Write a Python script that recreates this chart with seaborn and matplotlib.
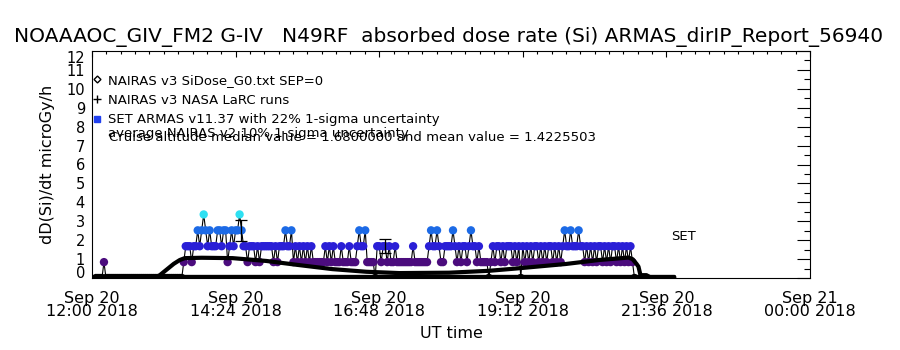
import pandas as pd
import seaborn as sns
import matplotlib.pyplot as plt
import matplotlib.dates as mdates
from matplotlib.lines import Line2D
from matplotlib.ticker import MultipleLocator, FixedLocator

# ARMAS SET readings, one sample every 2 min from 12:04 UT,
# written as multiples of the 0.84 microGy/h dose-rate step
armas_start = '2018-09-20 12:04'
armas_step = 0.84
armas_levels = [
    0, 0, 0, 0, 1, 0, 0, 0, 0, 0, 0, 0, 0, 0, 0, 0, 0, 0, 0, 0,
    0, 0, 0, 0, 0, 0, 0, 0, 0, 0, 0, 0, 0, 0, 0, 0, 0, 0, 0, 0,
    0, 0, 0, 0, 1, 2, 2, 2, 1, 2, 2, 3, 2, 3, 4, 3, 2, 3, 2, 2,
    2, 3, 3, 2, 3, 3, 1, 2, 3, 2, 3, 3, 4, 3, 2, 2, 1, 2, 2, 2,
    1, 2, 1, 2, 2, 2, 2, 2, 2, 1, 2, 1, 2, 2, 2, 3, 2, 2, 3, 1,
    2, 1, 2, 1, 2, 1, 2, 1, 2, 1, 1, 1, 1, 1, 1, 2, 1, 2, 1, 2,
    1, 1, 1, 2, 1, 1, 1, 2, 1, 1, 1, 2, 3, 2, 2, 3, 1, 1, 1, 1,
    0, 2, 2, 1, 2, 2, 1, 2, 1, 1, 2, 1, 1, 1, 1, 1, 1, 1, 1, 2,
    1, 1, 1, 1, 1, 1, 1, 2, 3, 2, 2, 3, 2, 1, 1, 2, 2, 2, 2, 3,
    2, 1, 2, 1, 2, 2, 1, 2, 3, 2, 2, 1, 2, 1, 1, 1, 1, 0, 1, 2,
    1, 2, 2, 1, 2, 1, 2, 2, 2, 1, 2, 1, 2, 0, 2, 1, 2, 1, 2, 1,
    2, 2, 1, 2, 1, 2, 1, 2, 2, 1, 2, 1, 2, 1, 2, 3, 2, 2, 3, 2,
    2, 2, 3, 2, 2, 1, 2, 1, 2, 1, 2, 1, 2, 2, 1, 2, 1, 2, 1, 2,
    2, 1, 2, 1, 2, 1, 2, 1, 2, 1, 0,
]

# NAIRAS v3 model curve: minutes after 12:00 UT, microGy/h
nairas_min = [63, 68, 75, 82, 88, 93, 110, 141, 175, 208, 241, 275, 308, 358,
              398, 425, 475, 508, 538, 542, 546, 548, 550, 556, 560, 584]
nairas_val = [0.0, 0.15, 0.45, 0.75, 0.95, 1.05, 1.07, 1.05, 0.9, 0.68, 0.47,
              0.33, 0.26, 0.28, 0.38, 0.5, 0.74, 0.95, 1.08, 1.0, 0.75, 0.6,
              0.15, 0.15, 0.03, 0.03]

# ground trace along the bottom of the panel
base_min = [5, 584]
base_val = [0.08, 0.08]

# NAIRAS v3 NASA LaRC runs with uncertainty
larc_min = [149, 294]
larc_val = [2.52, 1.68]
larc_err = [0.55, 0.37]

level_colors = {0: 'black', 1: '#4b0c7d', 2: '#2a1fd6', 3: '#1c6ae6', 4: '#2ee0f2'}

title = ('NOAAAOC_GIV_FM2 G-IV   N49RF  absorbed dose rate (Si) '
         'ARMAS_dirIP_Report_56940')
avg_note = 'average NAIRAS v2 10% 1-sigma uncertainty'
cruise_note = ('Cruise altitude median value = 1.6800000 and mean value = '
               '1.4225503')

sns.set_theme(style='white')
plt.rcParams['font.family'] = ['DejaVu Sans']
plt.rcParams.update({'text.color': 'black', 'axes.labelcolor': 'black',
                     'xtick.color': 'black', 'ytick.color': 'black'})

t0 = pd.Timestamp('2018-09-20 12:00')
armas = pd.DataFrame({'level': armas_levels})
armas['time'] = pd.date_range(armas_start, periods=len(armas), freq='2min')
armas['dose'] = armas['level'] * armas_step

nairas = pd.DataFrame({'time': t0 + pd.to_timedelta(nairas_min, unit='m'),
                       'dose': nairas_val})
base = pd.DataFrame({'time': t0 + pd.to_timedelta(base_min, unit='m'),
                     'dose': base_val})
larc_t = (t0 + pd.to_timedelta(larc_min, unit='m')).to_pydatetime()

fig = plt.figure(figsize=(9, 3.5), dpi=100)
ax = fig.add_axes([92 / 900, 1 - 278 / 350, 718 / 900, 227 / 350])

sns.lineplot(data=armas, x='time', y='dose', color='black', lw=0.8,
             estimator=None, sort=False, ax=ax, zorder=2)
sns.scatterplot(data=armas, x='time', y='dose', hue='level',
                palette=level_colors, s=36, linewidth=0, legend=False,
                ax=ax, zorder=3)
sns.lineplot(data=base, x='time', y='dose', color='black', lw=2.4,
             estimator=None, ax=ax, zorder=4)
sns.lineplot(data=nairas, x='time', y='dose', color='black', lw=3,
             estimator=None, sort=False, ax=ax, zorder=4)
ax.errorbar(larc_t, larc_val, yerr=larc_err, fmt='none', ecolor='black',
            elinewidth=0.9, capsize=4, capthick=0.9, zorder=5)

ax.set_xlim(t0, t0 + pd.Timedelta(hours=12))
ax.set_ylim(0, 12)
ax.yaxis.set_major_locator(MultipleLocator(1))
ax.yaxis.set_minor_locator(MultipleLocator(0.5))
major = pd.date_range(t0, periods=6, freq='144min')
minor = pd.date_range(t0, t0 + pd.Timedelta(hours=12), freq='864s')
ax.xaxis.set_major_locator(FixedLocator(mdates.date2num(major)))
ax.xaxis.set_minor_locator(FixedLocator(mdates.date2num(minor)))
ax.xaxis.set_major_formatter(mdates.DateFormatter('%b %d\n%H:%M %Y'))

ax.tick_params(which='both', direction='in', top=True, right=True,
               width=0.8, color='black', labelcolor='black')
ax.tick_params(axis='y', which='major', length=9.5, labelsize=10.5, pad=5)
ax.tick_params(axis='y', which='minor', length=4.5)
ax.tick_params(axis='x', which='major', length=4, labelsize=11.5, pad=9.5)
ax.tick_params(axis='x', which='minor', length=2)
for sp in ax.spines.values():
    sp.set_linewidth(0.8)
    sp.set_color('black')

ax.set_xlabel('UT time', fontsize=11.5, labelpad=5)
ax.set_ylabel('dD(Si)/dt microGy/h', fontsize=11.5, labelpad=8)
fig.text(449 / 900, 1 - 37 / 350, title, ha='center', va='center',
         fontsize=14.5)

handles = [
    Line2D([], [], ls='none', marker='D', ms=3.5, mfc='white',
           mec='black', mew=1),
    Line2D([], [], ls='none', marker='+', ms=6, color='black', mew=1),
    Line2D([], [], ls='none', marker='s', ms=4, color='#2040f0'),
]
labels = ['NAIRAS v3 SiDose_G0.txt SEP=0', 'NAIRAS v3 NASA LaRC runs',
          'SET ARMAS v11.37 with 22% 1-sigma uncertainty']
ax.legend(handles, labels, loc='upper left', bbox_to_anchor=(0.0015, 0.899),
          borderpad=0, borderaxespad=0, handlelength=0.6, handletextpad=0.55,
          labelspacing=0.5, frameon=False, fontsize=9.5)
ax.text(16 / 718, 0.635, avg_note, transform=ax.transAxes, fontsize=9.5,
        va='center', ha='left')
ax.text(17 / 718, 0.617, cruise_note, transform=ax.transAxes, fontsize=9.5,
        va='center', ha='left')
ax.text(t0 + pd.Timedelta(minutes=593), 2.2, 'SET', fontsize=9.5,
        ha='center', va='center')

# keep the end labels of the dose axis inside the box, as in the report
fig.canvas.draw()
for lbl in ax.get_xticklabels():
    lbl.set_linespacing(0.8)
for tick in ax.yaxis.get_major_ticks():
    pos = tick.get_loc()
    if abs(pos - 0) < 1e-6:
        tick.label1.set_va('baseline')
    elif abs(pos - 12) < 1e-6:
        tick.label1.set_va('top')

fig.savefig('out.png', dpi=100)
